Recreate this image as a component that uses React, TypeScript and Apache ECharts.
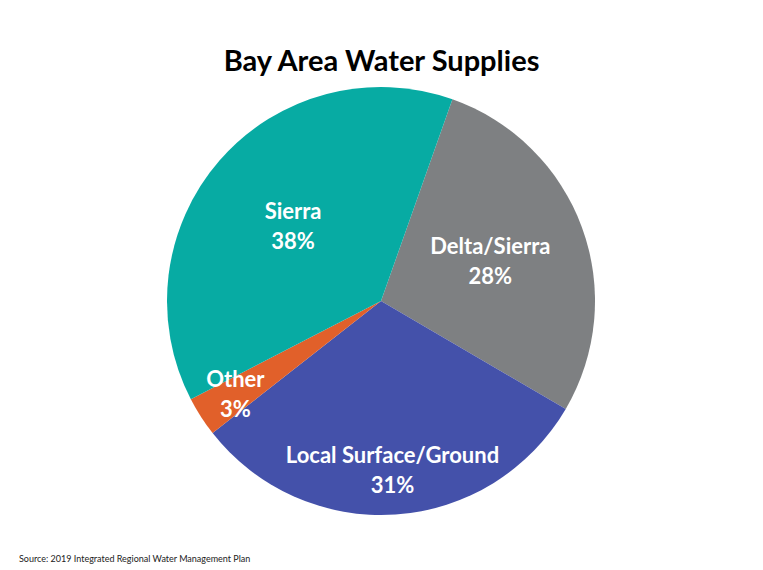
import React, { useEffect, useRef } from "react";
import * as echarts from "echarts";

const categories = ["Delta/Sierra", "Local Surface/Ground", "Other", "Sierra"];
const values = [28, 31, 3, 38];
const colors = ["#7E8082", "#4451AA", "#E1602A", "#07ABA3"];
const labelOffsets: [number, number][] = [
  [6, -3],
  [4, 59],
  [-53, 33],
  [-5, -3],
];

export default function App() {
  const ref = useRef<HTMLDivElement>(null);
  useEffect(() => {
    document.body.style.margin = "0";
    const chart = echarts.init(ref.current!, undefined, { renderer: "svg" });
    chart.setOption({
      animation: false,
      backgroundColor: "#ffffff",
      title: [
        {
          text: "Bay Area Water Supplies",
          left: "center",
          top: 40,
          textStyle: {
            fontFamily: "Lato",
            fontWeight: "bold",
            fontSize: 29,
            color: "#000000",
          },
        },
        {
          text: "Source: 2019 Integrated Regional Water Management Plan",
          left: 14,
          top: 549,
          textStyle: {
            fontFamily: "Lato",
            fontWeight: "normal",
            fontSize: 9,
            color: "#222222",
          },
        },
      ],
      series: [
        {
          type: "pie",
          center: [381, 301],
          radius: [0, 214],
          startAngle: 70.5,
          clockwise: true,
          label: {
            show: true,
            position: "inside",
            formatter: "{b}\n{c}%",
            color: "#ffffff",
            fontFamily: "Lato",
            fontWeight: "bold",
            fontSize: 22,
            lineHeight: 30,
          },
          labelLine: { show: false },
          itemStyle: { borderWidth: 0 },
          emphasis: { disabled: true },
          data: categories.map((name, i) => ({
            name,
            value: values[i],
            itemStyle: { color: colors[i] },
            label: { offset: labelOffsets[i] },
          })),
        },
      ],
    });
    return () => chart.dispose();
  }, []);
  return <div ref={ref} style={{ width: 763, height: 570 }} />;
}
